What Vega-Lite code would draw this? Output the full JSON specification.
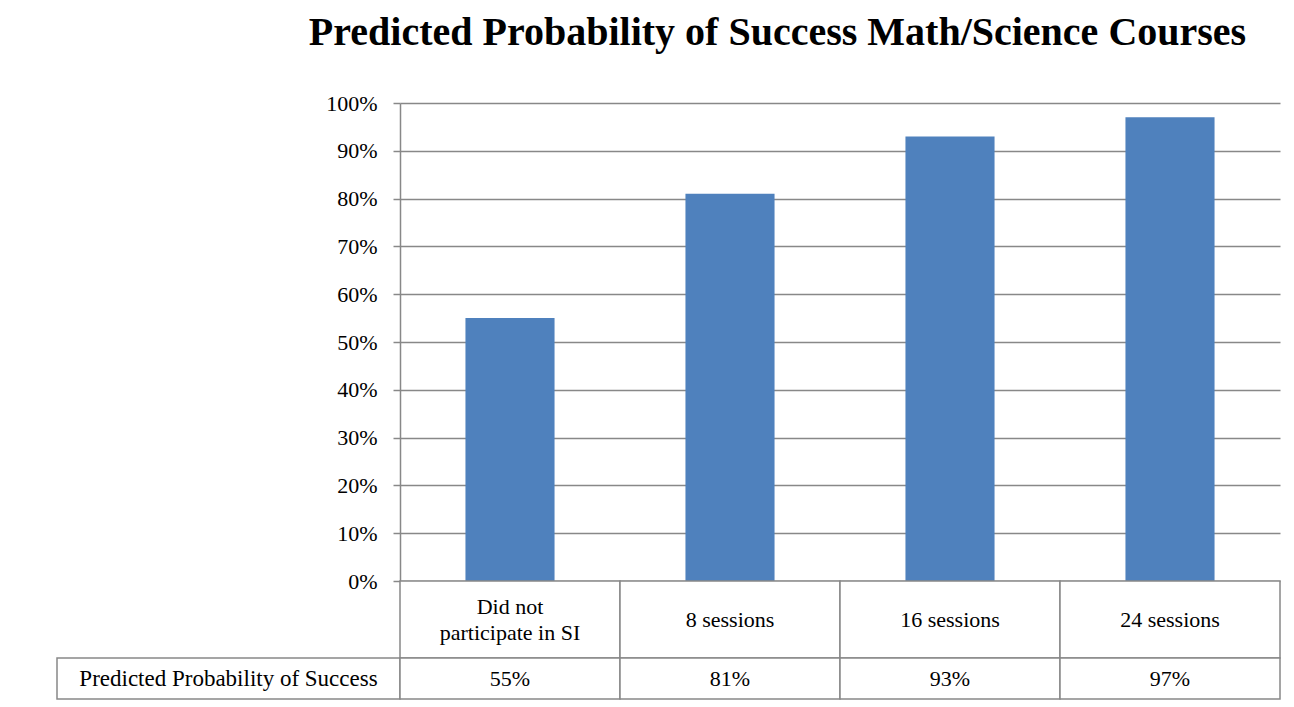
{
  "$schema": "https://vega.github.io/schema/vega-lite/v6.json",
  "background": "white",
  "padding": {"left": 56, "top": 13, "right": 10, "bottom": 5},
  "title": {
    "text": "Predicted Probability of Success Math/Science Courses",
    "font": "Liberation Serif",
    "fontSize": 40,
    "fontWeight": "bold",
    "color": "black",
    "anchor": "middle",
    "dx": 109,
    "offset": 39
  },
  "datasets": {
    "courses": [
      {"group": "Did not\nparticipate in SI", "prob": 0.55},
      {"group": "8 sessions", "prob": 0.81},
      {"group": "16 sessions", "prob": 0.93},
      {"group": "24 sessions", "prob": 0.97}
    ]
  },
  "columns": 2,
  "spacing": 0,
  "bounds": "flush",
  "concat": [
    {
      "width": 343,
      "height": 478,
      "data": {"values": []},
      "mark": "text",
      "encoding": {}
    },
    {
      "width": 880,
      "height": 478,
      "data": {"name": "courses"},
      "mark": {"type": "bar", "color": "#4F81BD"},
      "encoding": {
        "x": {
          "field": "group",
          "type": "nominal",
          "sort": null,
          "scale": {"paddingInner": 0.595, "paddingOuter": 0.2975},
          "axis": null
        },
        "y": {
          "field": "prob",
          "type": "quantitative",
          "scale": {"domain": [0, 1]},
          "axis": {
            "values": [0, 0.1, 0.2, 0.3, 0.4, 0.5, 0.6, 0.7, 0.8, 0.9, 1],
            "format": ".0%",
            "title": null,
            "grid": true,
            "labelFont": "Liberation Serif",
            "labelFontSize": 22,
            "labelColor": "black",
            "labelPadding": 16,
            "tickSize": 7,
            "tickColor": "#888888",
            "tickWidth": 1.5,
            "domainColor": "#888888",
            "domainWidth": 1.5,
            "gridColor": "#888888",
            "gridWidth": 1.5
          }
        }
      }
    },
    {
      "width": 343,
      "height": 77,
      "data": {"values": []},
      "mark": "text",
      "encoding": {}
    },
    {
      "width": 880,
      "height": 77,
      "data": {"name": "courses"},
      "encoding": {
        "x": {
          "field": "group",
          "type": "nominal",
          "sort": null,
          "scale": {"paddingInner": 0, "paddingOuter": 0},
          "axis": null
        }
      },
      "layer": [
        {"mark": {"type": "rect", "fill": "white", "stroke": "#888888", "strokeWidth": 1.5}},
        {
          "mark": {
            "type": "text",
            "font": "Liberation Serif",
            "fontSize": 22,
            "color": "black",
            "lineBreak": "\n",
            "lineHeight": 26,
            "baseline": "middle",
            "dy": {"expr": "indexof(datum.group, '\\n') >= 0 ? -13 : 0"}
          },
          "encoding": {"text": {"field": "group"}}
        }
      ]
    },
    {
      "width": 343,
      "height": 41,
      "data": {"values": [{"h": "Predicted Probability of Success"}]},
      "view": {"stroke": "#888888", "strokeWidth": 1.5},
      "mark": {"type": "text", "font": "Liberation Serif", "fontSize": 23, "color": "black", "baseline": "middle"},
      "encoding": {"text": {"field": "h"}}
    },
    {
      "width": 880,
      "height": 41,
      "data": {"name": "courses"},
      "encoding": {
        "x": {
          "field": "group",
          "type": "nominal",
          "sort": null,
          "scale": {"paddingInner": 0, "paddingOuter": 0},
          "axis": null
        }
      },
      "layer": [
        {"mark": {"type": "rect", "fill": "white", "stroke": "#888888", "strokeWidth": 1.5}},
        {
          "mark": {"type": "text", "font": "Liberation Serif", "fontSize": 22, "color": "black", "baseline": "middle"},
          "encoding": {"text": {"field": "prob", "type": "quantitative", "format": ".0%"}}
        }
      ]
    }
  ],
  "config": {
    "view": {"stroke": null},
    "font": "Liberation Serif"
  }
}
